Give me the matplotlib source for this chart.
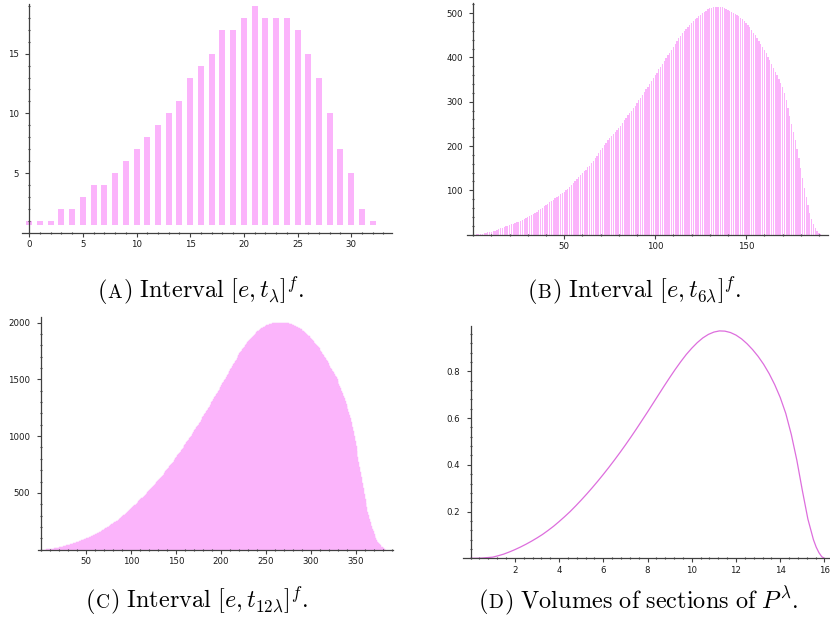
import numpy as np
import matplotlib
matplotlib.use('Agg')
import matplotlib.pyplot as plt
from matplotlib.ticker import FixedLocator, MultipleLocator

plt.rcParams['mathtext.fontset'] = 'cm'
plt.rcParams['font.family'] = ['DejaVu Sans']

# (A) rank sizes of [e, t_lambda]^f
count_a = [1, 1, 1, 2, 2, 3, 4, 4, 5, 6, 7, 8, 9, 10, 11, 13, 14, 15, 17, 17,
           18, 19, 18, 18, 18, 17, 15, 13, 10, 7, 5, 2, 1]

# (B) rank sizes of [e, t_6lambda]^f
count_b = [0, 0, 1, 1, 2, 2, 3, 4, 5, 6,
           7, 8, 9, 11, 12, 14, 15, 17, 19, 20,
           21, 23, 24, 26, 28, 29, 31, 33, 35, 38,
           40, 42, 44, 47, 49, 52, 55, 58, 61, 64,
           67, 70, 73, 76, 79, 82, 85, 88, 91, 94,
           97, 100, 104, 108, 112, 117, 121, 125, 130, 134,
           139, 143, 147, 152, 156, 161, 167, 172, 178, 185,
           191, 196, 202, 207, 213, 218, 222, 227, 231, 236,
           240, 246, 252, 258, 264, 270, 275, 280, 286, 291,
           297, 303, 309, 315, 321, 328, 334, 340, 347, 353,
           360, 366, 373, 379, 386, 392, 399, 405, 411, 417,
           424, 431, 437, 443, 449, 455, 459, 464, 468, 473,
           477, 482, 486, 490, 494, 497, 500, 503, 506, 509,
           511, 512, 513, 514, 515, 515, 514, 513, 511, 509,
           507, 505, 503, 501, 499, 496, 493, 490, 487, 483,
           478, 473, 468, 462, 456, 450, 444, 438, 431, 424,
           417, 410, 402, 394, 385, 376, 368, 360, 352, 343,
           333, 320, 305, 287, 268, 250, 232, 213, 193, 172,
           150, 127, 105, 85, 66, 49, 35, 24, 15, 8,
           4, 1]

# (C) rank sizes of [e, t_12lambda]^f
count_c = [0, 0, 0, 1, 1, 1, 2, 3, 3, 4,
           5, 6, 7, 8, 10, 11, 12, 14, 16, 18,
           19, 21, 23, 25, 27, 29, 31, 34, 36, 38,
           40, 43, 45, 48, 50, 53, 55, 58, 61, 63,
           66, 69, 72, 75, 78, 81, 84, 88, 91, 94,
           97, 100, 104, 107, 111, 114, 118, 121, 125, 129,
           133, 137, 141, 145, 149, 153, 157, 162, 167, 172,
           177, 182, 187, 192, 197, 203, 208, 214, 219, 224,
           229, 234, 240, 245, 251, 256, 262, 268, 275, 281,
           288, 295, 302, 309, 316, 323, 330, 337, 345, 352,
           360, 367, 375, 382, 390, 397, 405, 413, 420, 428,
           436, 444, 451, 459, 467, 475, 483, 491, 499, 507,
           515, 523, 532, 541, 550, 559, 568, 577, 586, 596,
           605, 614, 623, 632, 642, 652, 662, 672, 682, 692,
           702, 712, 722, 733, 743, 754, 765, 776, 787, 798,
           809, 820, 831, 842, 853, 864, 875, 886, 898, 909,
           920, 932, 944, 955, 967, 979, 991, 1003, 1015, 1027,
           1039, 1051, 1063, 1076, 1089, 1102, 1115, 1128, 1141, 1154,
           1167, 1180, 1193, 1207, 1220, 1233, 1246, 1260, 1273, 1286,
           1300, 1313, 1326, 1340, 1353, 1367, 1380, 1394, 1408, 1422,
           1436, 1450, 1464, 1478, 1492, 1506, 1520, 1534, 1548, 1562,
           1576, 1590, 1604, 1618, 1632, 1646, 1660, 1674, 1688, 1702,
           1716, 1728, 1740, 1752, 1764, 1776, 1788, 1799, 1810, 1820,
           1830, 1840, 1849, 1858, 1867, 1875, 1883, 1891, 1899, 1907,
           1915, 1922, 1929, 1936, 1942, 1948, 1953, 1958, 1963, 1967,
           1971, 1975, 1979, 1982, 1985, 1988, 1990, 1992, 1994, 1995,
           1996, 1997, 1998, 1999, 2000, 2000, 2000, 2000, 2000, 2000,
           1999, 1998, 1997, 1996, 1994, 1992, 1990, 1988, 1985, 1982,
           1979, 1976, 1972, 1968, 1964, 1960, 1955, 1950, 1945, 1940,
           1934, 1928, 1922, 1915, 1908, 1901, 1893, 1885, 1877, 1868,
           1859, 1851, 1842, 1833, 1823, 1813, 1803, 1793, 1783, 1773,
           1762, 1750, 1738, 1726, 1713, 1700, 1687, 1673, 1659, 1645,
           1630, 1617, 1604, 1590, 1576, 1562, 1548, 1533, 1517, 1500,
           1482, 1462, 1441, 1420, 1398, 1376, 1355, 1333, 1310, 1287,
           1264, 1240, 1214, 1188, 1160, 1122, 1083, 1043, 1000, 955,
           910, 865, 820, 775, 730, 687, 640, 590, 540, 490,
           450, 410, 372, 336, 302, 270, 240, 212, 186, 162,
           140, 120, 102, 86, 72, 59, 47, 37, 28, 20,
           13, 8, 4, 1]

# (D) volumes of sections of P^lambda
vol_x = [0, 0.25, 0.5, 0.75, 1, 1.25, 1.5, 1.75, 2, 2.25,
         2.5, 2.75, 3, 3.25, 3.5, 3.75, 4, 4.25, 4.5, 4.75,
         5, 5.25, 5.5, 5.75, 6, 6.25, 6.5, 6.75, 7, 7.25,
         7.5, 7.75, 8, 8.25, 8.5, 8.75, 9, 9.25, 9.5, 9.75,
         10, 10.25, 10.5, 10.75, 11, 11.25, 11.5, 11.75, 12, 12.25,
         12.5, 12.75, 13, 13.25, 13.5, 13.75, 14, 14.25, 14.5, 14.75,
         15, 15.25, 15.5, 15.625, 15.75, 15.875, 16]
vol_y = [0, 0.0002, 0.001, 0.003, 0.005, 0.011, 0.018, 0.027, 0.037, 0.048,
         0.06, 0.073, 0.087, 0.102, 0.119, 0.137, 0.157, 0.178, 0.2, 0.224,
         0.249, 0.275, 0.302, 0.33, 0.359, 0.389, 0.42, 0.452, 0.485, 0.519,
         0.554, 0.59, 0.626, 0.663, 0.7, 0.737, 0.773, 0.808, 0.841, 0.872,
         0.899, 0.923, 0.943, 0.958, 0.968, 0.973, 0.972, 0.966, 0.955, 0.939,
         0.918, 0.893, 0.864, 0.83, 0.79, 0.743, 0.688, 0.62, 0.53, 0.42,
         0.29, 0.168, 0.08, 0.048, 0.024, 0.007, 0.0]

BAR = '#fbb4fb'
LINE = '#dd6edd'
AXIS = '0.25'
W, H = 830, 625
FS = 17.5


def px_axes(fig, left, right, top, bottom):
    # axes box given in pixel coordinates of the figure
    return fig.add_axes([left / W, 1 - bottom / H, (right - left) / W, (bottom - top) / H])


def style(ax, xmaj, xmin, ymaj, ymin):
    ax.spines[['top', 'right']].set_visible(False)
    ax.spines['left'].set_position(('data', 0))
    ax.spines[['left', 'bottom']].set_color(AXIS)
    ax.spines[['left', 'bottom']].set_linewidth(0.9)
    ax.xaxis.set_major_locator(FixedLocator(xmaj))
    ax.xaxis.set_minor_locator(MultipleLocator(xmin))
    ax.yaxis.set_major_locator(FixedLocator(ymaj))
    ax.yaxis.set_minor_locator(MultipleLocator(ymin))
    ax.tick_params(which='both', color=AXIS, width=0.8,
                   labelsize=6.2, labelcolor='0.1')
    ax.tick_params(which='major', direction='out', length=3)
    ax.tick_params(which='minor', direction='inout', length=2)
    ax.tick_params(axis='x', pad=2.5)
    ax.tick_params(axis='y', pad=4.5)
    ax.patch.set_alpha(0)


def caption(fig, x_px, base_px, letter, rest):
    r = fig.canvas.get_renderer()
    x = x_px / W
    y = 1 - base_px / H
    for txt, size in (('$($', FS), (r'$\mathrm{%s}$' % letter, FS * 0.8), (rest, FS)):
        t = fig.text(x, y, txt, fontsize=size, va='baseline', ha='left')
        x += t.get_window_extent(r).width / W


fig = plt.figure(figsize=(8.3, 6.25), dpi=100)

# (A)
ax1 = px_axes(fig, 21.7, 392, 3.5, 232.7)
xa = np.arange(len(count_a))
ax1.bar(xa, np.array(count_a) - 0.64, bottom=0.64, width=0.56, color=BAR, linewidth=0)
ax1.set_xlim(-0.7, 33.8)
ax1.set_ylim(0, 19.2)
style(ax1, [0, 5, 10, 15, 20, 25, 30], 1, [5, 10, 15], 1)

# (B)
ax2 = px_axes(fig, 466.7, 828, 3, 234.6)
xb = np.arange(len(count_b))
ax2.bar(xb, count_b, width=0.7, color=BAR, linewidth=0)
ax2.set_xlim(-3.6, 195)
ax2.set_ylim(0, 523)
style(ax2, [50, 100, 150], 10, [100, 200, 300, 400, 500], 20)

# (C)
ax3 = px_axes(fig, 38, 393, 317.3, 549.7)
xc = np.arange(len(count_c))
ax3.bar(xc, count_c, width=1.0, color=BAR, edgecolor=BAR, linewidth=0.3)
ax3.set_xlim(-3, 391)
ax3.set_ylim(0, 2046)
style(ax3, [50, 100, 150, 200, 250, 300, 350], 10, [500, 1000, 1500, 2000], 100)

# (D)
ax4 = px_axes(fig, 463.3, 830, 326, 558.3)
ax4.plot(vol_x, vol_y, color=LINE, linewidth=0.9)
ax4.set_xlim(-0.33, 16.25)
ax4.set_ylim(0, 0.994)
style(ax4, [2, 4, 6, 8, 10, 12, 14, 16], 0.4, [0.2, 0.4, 0.6, 0.8], 0.04)

caption(fig, 97, 298, 'A', r'$)\ \mathrm{Interval}\ [e, t_{\lambda}]^f.$')
caption(fig, 527, 298, 'B', r'$)\ \mathrm{Interval}\ [e, t_{6\lambda}]^f.$')
caption(fig, 85, 608, 'C', r'$)\ \mathrm{Interval}\ [e, t_{12\lambda}]^f.$')
caption(fig, 478, 608, 'D', r'$)\ \mathrm{Volumes\ of\ sections\ of}\ P^{\lambda}.$')

fig.savefig('out.png', dpi=100)
